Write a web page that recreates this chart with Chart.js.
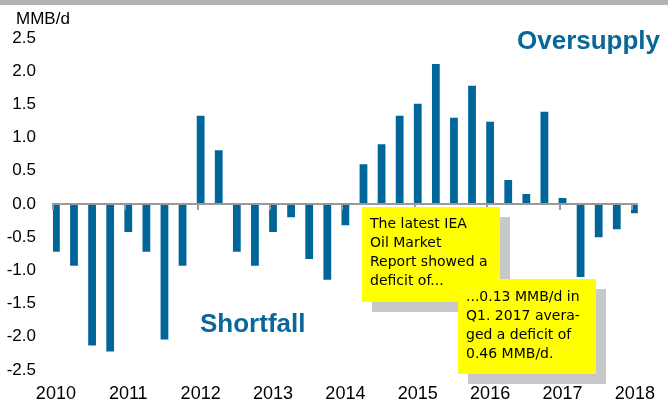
<!DOCTYPE html>
<html><head><meta charset="utf-8">
<script src="https://cdn.jsdelivr.net/npm/chart.js@4"></script>
<style>html,body{margin:0;padding:0;background:#fff;}#wrap{width:668px;height:404px;position:relative;}</style>
</head><body><div id="wrap"><canvas id="c" width="668" height="404"></canvas></div>
<script>
const quarters = ['2010Q1','2010Q2','2010Q3','2010Q4','2011Q1','2011Q2','2011Q3','2011Q4',
  '2012Q1','2012Q2','2012Q3','2012Q4','2013Q1','2013Q2','2013Q3','2013Q4',
  '2014Q1','2014Q2','2014Q3','2014Q4','2015Q1','2015Q2','2015Q3','2015Q4',
  '2016Q1','2016Q2','2016Q3','2016Q4','2017Q1','2017Q2','2017Q3','2017Q4','2018Q1'];
const balance = [-0.72,-0.93,-2.13,-2.22,-0.42,-0.72,-2.04,-0.93,
  1.33,0.81,-0.72,-0.93,-0.42,-0.2,-0.83,-1.14,
  -0.32,0.6,0.9,1.33,1.51,2.11,1.3,1.78,
  1.24,0.36,0.15,1.39,0.09,-1.1,-0.5,-0.38,-0.14];
const yearLabels = ['2010','2011','2012','2013','2014','2015','2016','2017','2018'];
const yTicks = [-2.5,-2.0,-1.5,-1.0,-0.5,0.0,0.5,1.0,1.5,2.0,2.5];
const unitLabel = 'MMB/d';
const overLabel = 'Oversupply';
const shortLabel = 'Shortfall';
const note1 = ['The latest IEA','Oil Market','Report showed a','deficit of...'];
const note2 = ['...0.13 MMB/d in','Q1. 2017 avera-','ged a deficit of','0.46 MMB/d.'];

const BLUE = '#006699';
const points = balance.map((v,i)=>({x:i, y:v}));

const decor = {
  id:'decor',
  beforeDraw(chart){
    const ctx = chart.ctx;
    ctx.save();
    ctx.fillStyle = '#ffffff';
    ctx.fillRect(0,0,chart.width,chart.height);
    ctx.fillStyle = '#b3b3b3';
    ctx.fillRect(0,0,chart.width,5);
    ctx.restore();
  },
  afterDatasetsDraw(chart){
    const ctx = chart.ctx, xs = chart.scales.x, ys = chart.scales.y;
    const y0 = ys.getPixelForValue(0);
    ctx.save();
    ctx.strokeStyle = '#9a9a9a';
    ctx.lineWidth = 2;
    yearLabels.forEach((_,k)=>{
      const px = Math.round(xs.getPixelForValue(k*4)) - 3;
      ctx.beginPath(); ctx.moveTo(px, y0-1); ctx.lineTo(px, y0+6); ctx.stroke();
    });
    ctx.restore();
  },
  afterDraw(chart){
    const ctx = chart.ctx;
    ctx.save();
    ctx.fillStyle = '#000';
    ctx.font = '17px "Liberation Sans", Arial, sans-serif';
    ctx.textBaseline = 'alphabetic';
    ctx.textAlign = 'left';
    ctx.fillText(unitLabel, 16, 24);
    ctx.fillStyle = '#0a6799';
    ctx.font = 'bold 26px "Liberation Sans", Arial, sans-serif';
    ctx.fillText(overLabel, 517, 49);
    ctx.fillText(shortLabel, 200, 332);
    const drawNote = (x,y,lines,tx,ty)=>{
      ctx.fillStyle = '#c8c8c8';
      ctx.fillRect(x+10,y+10,138,95);
      ctx.fillStyle = '#ffff00';
      ctx.fillRect(x,y,138,95);
      ctx.fillStyle = '#000';
      ctx.font = '14px "DejaVu Sans", sans-serif';
      ctx.textBaseline = 'middle';
      lines.forEach((l,i)=>ctx.fillText(l, tx, ty + i*19));
    };
    drawNote(362,207,note1,370,224);
    drawNote(458,279,note2,466,297);
    ctx.restore();
  }
};

new Chart(document.getElementById('c'), {
  type:'bar',
  data:{ datasets:[{ data: points, backgroundColor: BLUE, borderWidth:0,
    barPercentage:0.43, categoryPercentage:1.0 }] },
  options:{
    responsive:false, animation:false, devicePixelRatio:1,
    layout:{ padding:{ top:38, right:20, left:0, bottom:0 } },
    plugins:{ legend:{display:false}, tooltip:{enabled:false} },
    scales:{
      x:{ type:'linear', min:-0.16, max:32.16, offset:false,
        afterBuildTicks(s){ s.ticks = yearLabels.map((_,k)=>({value:k*4})); },
        afterFit(s){ s.height = 34; },
        ticks:{ callback:(v)=>yearLabels[Math.round(v/4)], color:'#000', padding:13,
          maxRotation:0, autoSkip:false, font:{ size:18, family:'"Liberation Sans", Arial, sans-serif' } },
        grid:{ display:false, drawTicks:false, offset:false }, border:{ display:false } },
      y:{ min:-2.5, max:2.5,
        afterBuildTicks(s){ s.ticks = yTicks.map(v=>({value:v})); },
        afterFit(s){ s.width = 53; },
        ticks:{ callback:(v)=>Number(v).toFixed(1), color:'#000', padding:17,
          font:{ size:17, family:'"Liberation Sans", Arial, sans-serif' } },
        grid:{ drawTicks:false, lineWidth:2,
          color:(c)=> (c.tick && c.tick.value===0) ? '#999999' : 'rgba(0,0,0,0)' },
        border:{ display:false } }
    }
  },
  plugins:[decor]
});
</script></body></html>
